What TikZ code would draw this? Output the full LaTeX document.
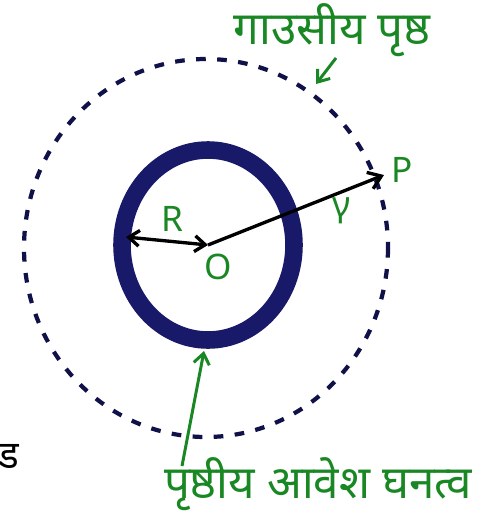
\documentclass[tikz,border=0pt]{standalone}
\usepackage{fontspec}
\setmainfont{Noto Sans}
\newfontfamily\dev[Script=Devanagari]{Noto Sans}
\usetikzlibrary{arrows.meta}
\definecolor{ink}{RGB}{25,25,105}
\definecolor{pen}{RGB}{25,135,35}
\tikzset{
  lbl/.style={text=pen, font=\dev\bfseries\fontsize{26}{30}\selectfont, inner sep=0pt},
  sym/.style={text=pen, font=\bfseries\fontsize{20}{22}\selectfont, inner sep=0pt},
  gauss/.style={draw=ink!70!black, line width=2.4pt, dash pattern=on 5.5pt off 6.5pt},
  shell/.style={draw=ink, line width=10pt},
  vec/.style={draw=black, line width=1.9pt},
  ptr/.style={draw=pen, line width=1.7pt, -{Straight Barb[length=6pt,width=9pt]}}
}
\begin{document}
\begin{tikzpicture}[x=0.02cm,y=-0.02cm]
\useasboundingbox (0,0) rectangle (492,514);
\coordinate (O) at (208,245);
% Gaussian surface
\path[gauss] (206,248) ellipse [x radius=182, y radius=189];
% charged shell
\path[shell] (O) ellipse [x radius=86, y radius=95];
% vectors
\coordinate (Rin) at (126,237);
\coordinate (Ptip) at (384,175);
\draw[vec, {Straight Barb[length=6pt,width=9pt]}-{Straight Barb[length=6pt,width=9pt]}] (Rin) -- (O);
\draw[vec, -{Straight Barb[length=7pt,width=10pt]}] (O) -- (Ptip);
% labels
\node[sym] (P) at (402,170) {P};
\node[sym] (R) at (172,219) {R};
\node[sym] (Ol) at (218,267) {O};
\node[sym] (r) at (342,211) {γ};
\node[lbl] (gl) at (332,30) {गाउसीय पृष्ठ};
\node[lbl] (sl) at (318,484) {पृष्ठीय आवेश घनत्व};
\coordinate (gtip) at (316,84);
\coordinate (stip) at (204,351);
\coordinate (gtail) at (336,58);
\coordinate (stail) at (182,466);
\draw[ptr] (gtail) -- (gtip);
\draw[ptr] (stail) -- (stip);
% fragment at left edge
\node[text=black, font=\dev\bfseries\fontsize{22}{24}\selectfont, inner sep=0pt] (frag) at (9,456) {ड};
\end{tikzpicture}
\end{document}
